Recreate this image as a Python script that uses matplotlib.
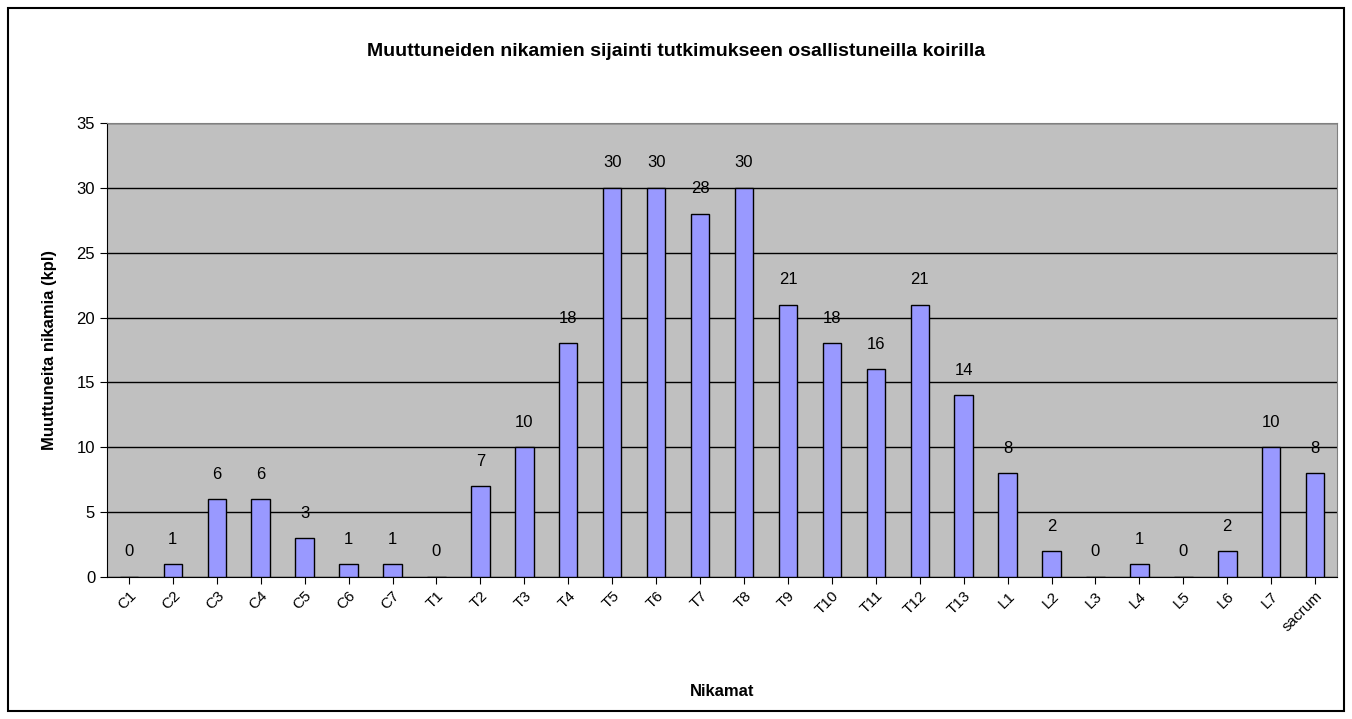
import matplotlib.pyplot as plt
from matplotlib.patches import Rectangle

plt.rcParams['font.family'] = ['Liberation Sans', 'DejaVu Sans']

# vertebra categories and counts
nikamat = ['C1', 'C2', 'C3', 'C4', 'C5', 'C6', 'C7',
           'T1', 'T2', 'T3', 'T4', 'T5', 'T6', 'T7', 'T8', 'T9', 'T10',
           'T11', 'T12', 'T13',
           'L1', 'L2', 'L3', 'L4', 'L5', 'L6', 'L7', 'sacrum']
maarat = [0, 1, 6, 6, 3, 1, 1,
          0, 7, 10, 18, 30, 30, 28, 30, 21, 18, 16, 21, 14,
          8, 2, 0, 1, 0, 2, 10, 8]

fig = plt.figure(figsize=(13.52, 7.19), dpi=100)
ax = fig.add_axes([0.0791, 0.1975, 0.9099, 0.6315])
ax.set_facecolor('#C0C0C0')

x = list(range(len(nikamat)))
ax.bar(x, maarat, width=0.42, color='#9999FF', edgecolor='black', linewidth=1, zorder=3)

for xi, v in zip(x, maarat):
    ax.annotate(str(v), (xi, v), xytext=(0, 18), textcoords='offset points',
                ha='center', va='center', fontsize=12, zorder=4)

ax.set_xlim(-0.5, len(nikamat) - 0.5)
ax.set_ylim(0, 35)
ax.set_yticks(range(0, 36, 5))
ax.yaxis.grid(True, color='black', linewidth=1, zorder=1)
ax.set_axisbelow(True)
ax.set_xticks(x)
ax.set_xticklabels(nikamat, rotation=45, ha='right', rotation_mode='anchor', fontsize=11)
ax.tick_params(axis='y', labelsize=12, direction='out', length=5)
ax.tick_params(axis='x', length=5)
for s in ['top', 'right']:
    ax.spines[s].set_color('#808080')
ax.spines['left'].set_color('black')
ax.spines['bottom'].set_color('black')

ax.set_ylabel('Muuttuneita nikamia (kpl)', fontsize=12, fontweight='bold', labelpad=14)
ax.set_xlabel('Nikamat', fontsize=12, fontweight='bold', labelpad=36)
fig.text(0.5, 0.928, 'Muuttuneiden nikamien sijainti tutkimukseen osallistuneilla koirilla',
         ha='center', va='center', fontsize=14, fontweight='bold')

fig.patches.append(Rectangle((0.006, 0.011), 0.988, 0.978, transform=fig.transFigure,
                             fill=False, edgecolor='black', linewidth=1.5))

fig.savefig('out.png', dpi=100)
